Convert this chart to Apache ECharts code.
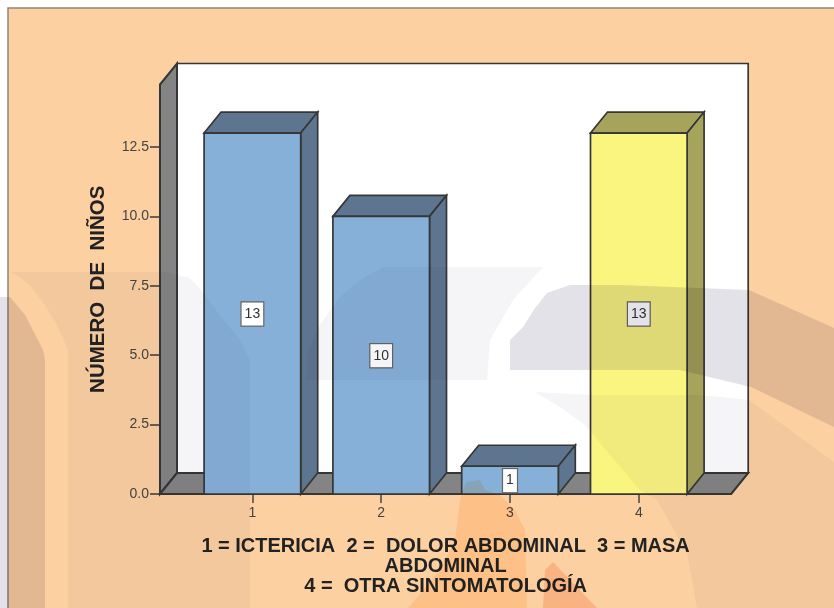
<!DOCTYPE html>
<html>
<head>
<meta charset="utf-8">
<style>html,body{margin:0;padding:0;background:#fff}#chart{width:834px;height:608px}</style>
<script src="https://cdn.jsdelivr.net/npm/echarts@6/dist/echarts.min.js"></script>
</head>
<body>
<div id="chart"></div>
<script>
// Síntomas de presentación: número de niños por categoría
const categories = ['1', '2', '3', '4'];
const counts = [13, 10, 1, 13];
const barColors = ['#87B0D8', '#87B0D8', '#87B0D8', '#FAF57F'];
const barShades = ['#5D758F', '#5D758F', '#5D758F', '#A6A35A'];
const yTickInterval = 2.5;
const yMax = 14.75;
const yTitle = 'NÚMERO  DE  NIÑOS';
const xTitle = '1 = ICTERICIA  2 =  DOLOR ABDOMINAL  3 = MASA\nABDOMINAL\n4 =  OTRA SINTOMATOLOGÍA';

// Caja 3D: profundidad oblicua y sobrante del suelo a cada lado de las categorías
const depthX = 17;
const depthY = 21;
const overhang = 28;
const lineColor = '#363636';
const barBand = 0.75;

function poly(points, fill, lineWidth) {
  return {
    type: 'polygon',
    shape: { points },
    style: { fill, stroke: lineColor, lineWidth: lineWidth || 1.7, lineJoin: 'miter' }
  };
}

// Paredes y suelo del gráfico
function renderBox(params, api) {
  const cs = params.coordSys;
  const l = cs.x - overhang, r = cs.x + cs.width + overhang;
  const t = cs.y, b = cs.y + cs.height;
  return {
    type: 'group',
    children: [
      poly([[l + depthX, t - depthY], [r + depthX, t - depthY], [r + depthX, b - depthY], [l + depthX, b - depthY]], '#FFFFFF'),
      poly([[l, t], [l + depthX, t - depthY], [l + depthX, b - depthY], [l, b]], '#848484', 2),
      poly([[l, b], [l + depthX, b - depthY], [r + depthX, b - depthY], [r, b]], '#848484', 2)
    ]
  };
}

// Barra con cara frontal, superior y lateral
function renderBar(params, api) {
  const i = params.dataIndex;
  const value = api.value(1);
  const top = api.coord([api.value(0), value]);
  const base = api.coord([api.value(0), 0]);
  const mid = api.coord([api.value(0), value / 2]);
  const w = api.size([1, 0])[0] * barBand;
  const l = top[0] - w / 2, r = top[0] + w / 2;
  return {
    type: 'group',
    children: [
      poly([[l, top[1]], [l + depthX, top[1] - depthY], [r + depthX, top[1] - depthY], [r, top[1]]], barShades[i]),
      poly([[r, top[1]], [r + depthX, top[1] - depthY], [r + depthX, base[1] - depthY], [r, base[1]]], barShades[i]),
      poly([[l, top[1]], [r, top[1]], [r, base[1]], [l, base[1]]], barColors[i]),
      {
        type: 'text',
        x: mid[0],
        y: mid[1] + 0.5,
        style: {
          text: String(value),
          align: 'center',
          verticalAlign: 'middle',
          fill: '#333333',
          font: '14px "Liberation Sans"',
          backgroundColor: '#FFFFFF',
          borderColor: '#666666',
          borderWidth: 1.2,
          padding: [5, 3, 4, 3]
        }
      }
    ]
  };
}

// Marca de agua que oscurece lo que tiene debajo, sobre toda la página
function mark(points, fill) {
  return { type: 'polygon', silent: true, z: 100, shape: { points }, style: { fill, blend: 'multiply' } };
}

const veilSoft = '#F5F5F8';
const veilDark = '#E3E2E8';

const watermark = [
  mark([[10,272],[165,272],[190,278],[205,295],[222,318],[240,340],[250,360],[250,608],[68,608],[68,350],[57,325],[45,305],[30,285],[20,277]], veilSoft),
  mark([[0,297],[10,297],[25,315],[43,350],[45,360],[45,608],[0,608]], veilDark),
  mark([[510,370],[510,340],[523,327],[535,308],[547,293],[570,285],[620,285],[749,290],[834,328],[834,427],[751,387],[680,370]], veilDark),
  mark([[307,380],[307,353],[320,325],[340,297],[360,280],[383,267],[543,267],[513,300],[490,340],[487,380]], veilSoft),
  mark([[535,392],[590,395],[700,395],[749,400],[834,462],[834,608],[697,608],[687,553],[657,500],[640,490],[610,455],[585,425],[560,407]], veilSoft),
  mark([[466,482],[480,480],[485,490],[500,495],[515,510],[525,530],[527,608],[408,608],[440,570],[455,540],[460,500]], '#FFEDD8'),
  mark([[553,562],[575,585],[597,608],[543,608],[545,570]], '#FBDCD0')
];

const frame = [
  { type: 'rect', z: 0, silent: true, shape: { x: 8, y: 8, width: 840, height: 620 }, style: { fill: '#FDD0A1', stroke: '#8C857E', lineWidth: 1.5 } }
];

const chart = echarts.init(document.getElementById('chart'), null, { renderer: 'canvas' });
chart.setOption({
  animation: false,
  backgroundColor: '#FFFFFF',
  grid: { left: 188, top: 84.5, width: 515.2, height: 409.5 },
  graphic: { elements: frame.concat(watermark) },
  xAxis: {
    type: 'category',
    data: categories,
    axisLine: { show: false },
    axisTick: { show: true, alignWithLabel: true, length: 9, lineStyle: { color: '#444444', width: 1.5 } },
    axisLabel: { color: '#444444', fontFamily: 'Liberation Sans', fontSize: 14, margin: 12 },
    name: xTitle,
    nameLocation: 'middle',
    nameGap: 42,
    nameTextStyle: { color: '#222222', fontFamily: 'Liberation Sans', fontWeight: 'bold', fontSize: 20, lineHeight: 20, verticalAlign: 'top' }
  },
  yAxis: {
    type: 'value',
    min: 0,
    max: yMax,
    interval: yTickInterval,
    offset: overhang,
    splitLine: { show: false },
    axisLine: { show: false },
    axisTick: { show: true, length: 10, lineStyle: { color: '#3A3A3A', width: 1.5 } },
    axisLabel: {
      color: '#444444',
      fontFamily: 'Liberation Sans',
      fontSize: 14,
      margin: 11,
      padding: [3, 0, 0, 0],
      showMaxLabel: false,
      formatter: v => v.toFixed(1)
    },
    name: yTitle,
    nameLocation: 'middle',
    nameGap: 51,
    nameRotate: 90,
    nameTextStyle: { color: '#222222', fontFamily: 'Liberation Sans', fontWeight: 'bold', fontSize: 20.5 }
  },
  series: [
    { type: 'custom', z: 1, silent: true, renderItem: renderBox, data: [[0, 0]], clip: false },
    { type: 'custom', z: 2, silent: true, renderItem: renderBar, data: counts.map((v, i) => [i, v]), encode: { x: 0, y: 1 }, clip: false }
  ]
});
</script>
</body>
</html>
